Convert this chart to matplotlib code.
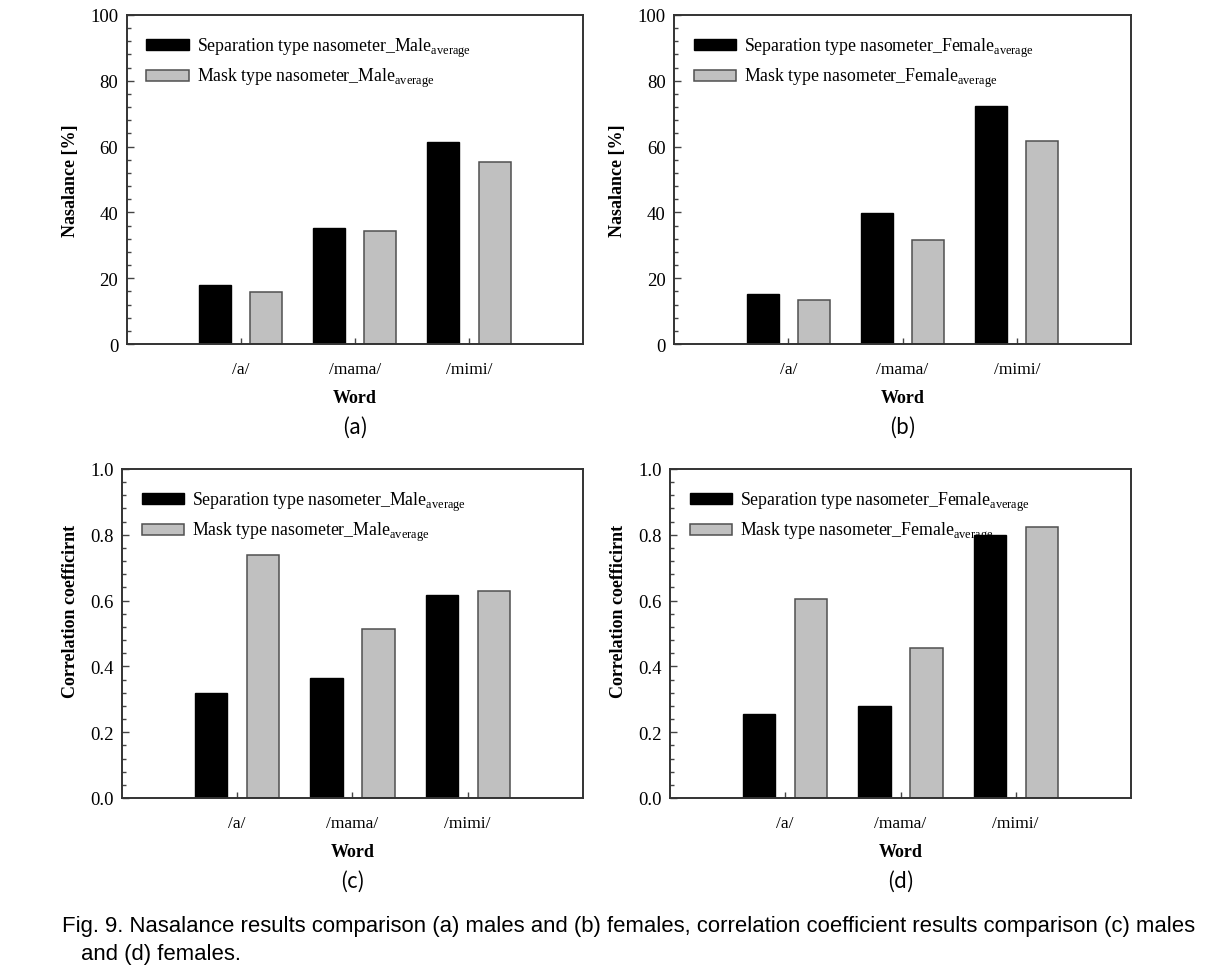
import matplotlib
matplotlib.use("Agg")
import numpy as np
import matplotlib.pyplot as plt
from matplotlib.ticker import AutoMinorLocator, MultipleLocator

plt.rcParams['font.family'] = ['Liberation Serif', 'DejaVu Serif']
plt.rcParams['mathtext.fontset'] = 'custom'
plt.rcParams['mathtext.rm'] = 'Liberation Serif'

# Data
words = ['/a/', '/mama/', '/mimi/']
nas_male_sep = [17.9, 35.4, 61.5]
nas_male_mask = [15.8, 34.4, 55.3]
nas_female_sep = [15.3, 39.7, 72.4]
nas_female_mask = [13.5, 31.5, 61.8]
cor_male_sep = [0.318, 0.366, 0.618]
cor_male_mask = [0.738, 0.513, 0.628]
cor_female_sep = [0.254, 0.281, 0.800]
cor_female_mask = [0.604, 0.455, 0.825]

panels = [
    # (rect px, sep, mask, sex, ylabel, ymax, major, letter)
    ([126.5, 16, 583, 345], nas_male_sep, nas_male_mask, 'Male', 'Nasalance [%]', 100, 20, '(a)'),
    ([674, 16, 1131, 345], nas_female_sep, nas_female_mask, 'Female', 'Nasalance [%]', 100, 20, '(b)'),
    ([122, 470, 583, 799], cor_male_sep, cor_male_mask, 'Male', 'Correlation coefficirnt', 1.0, 0.2, '(c)'),
    ([670, 470, 1131, 799], cor_female_sep, cor_female_mask, 'Female', 'Correlation coefficirnt', 1.0, 0.2, '(d)'),
]

W, H = 1205, 970
fig = plt.figure(figsize=(W / 100, H / 100), dpi=100)

x = np.arange(1, len(words) + 1)
off = 0.225
bw = 0.28

for rect, sep, mask, sex, ylabel, ymax, major, letter in panels:
    l, t, r, b = rect
    ax = fig.add_axes([l / W, 1 - b / H, (r - l) / W, (b - t) / H])
    ax.bar(x - off, sep, width=bw, color='black', edgecolor='black', linewidth=1,
           label='Separation type nasometer_' + sex + r'$_{\mathrm{average}}$')
    ax.bar(x + off, mask, width=bw, color='#c0c0c0', edgecolor='#505050', linewidth=1.1,
           label='Mask type nasometer_' + sex + r'$_{\mathrm{average}}$')
    ax.set_xlim(0, 4)
    ax.set_ylim(0, ymax)
    ax.set_xticks(x)
    ax.set_xticklabels(words, fontsize=12.5)
    ax.yaxis.set_major_locator(MultipleLocator(major))
    ax.yaxis.set_minor_locator(AutoMinorLocator(5))
    if ymax == 1.0:
        ax.set_yticklabels([f'{v:.1f}' for v in ax.get_yticks()])
    ax.tick_params(axis='y', which='major', direction='in', length=5, width=1,
                   color='#444444', labelsize=13.5, pad=6)
    ax.tick_params(axis='y', which='minor', direction='in', length=3, width=1, color='#444444')
    ax.tick_params(axis='x', which='major', direction='in', length=4, width=1,
                   color='#444444', pad=12)
    for s in ax.spines.values():
        s.set_color('#333333')
        s.set_linewidth(1.4)
    ax.set_ylabel(ylabel, fontsize=13, fontweight='bold', labelpad=8)
    if ymax == 1.0:
        ax.yaxis.label.set_y(0.57)
    ax.set_xlabel('Word', fontsize=13, fontweight='bold', labelpad=9)
    ax.legend(loc='upper left', frameon=False, fontsize=12.8,
              handlelength=2.4, handleheight=0.55, handletextpad=0.45,
              labelspacing=0.4, borderaxespad=0.5, bbox_to_anchor=(0.008, 0.985))
    fig.text((l + r) / 2 / W, 1 - (b + 83) / H, letter, ha='center', va='center',
             fontsize=15, family=['Noto Sans CJK KR', 'DejaVu Sans'])

cap_font = ['Liberation Sans', 'DejaVu Sans']
fig.text(62 / W, 1 - 927 / H,
         'Fig. 9. Nasalance results comparison (a) males and (b) females, correlation coefficient results comparison (c) males',
         ha='left', va='center', fontsize=15.9, family=cap_font)
fig.text(81 / W, 1 - 955 / H, 'and (d) females.',
         ha='left', va='center', fontsize=15.9, family=cap_font)

fig.savefig('out.png', dpi=100)
